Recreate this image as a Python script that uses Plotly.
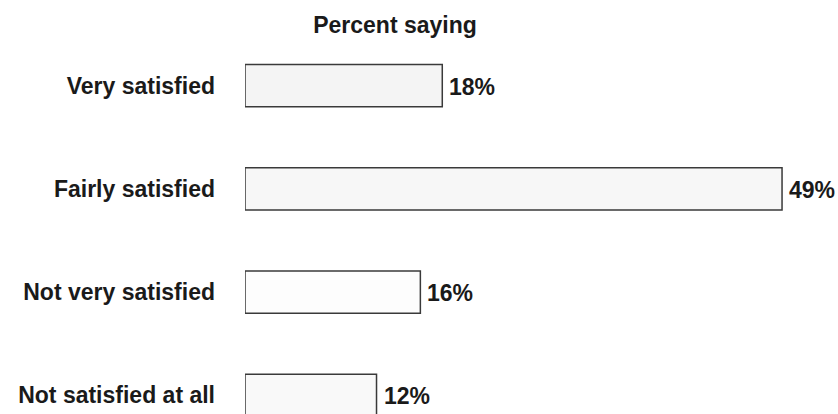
import plotly.graph_objects as go

# Survey responses: share of respondents in each satisfaction group
categories = ["Very satisfied", "Fairly satisfied", "Not very satisfied", "Not satisfied at all"]
percents = [18, 49, 16, 12]
fills = ["#f4f4f4", "#f7f7f7", "#fdfdfd", "#f9f9f9"]
title_text = "Percent saying"

font_family = "Liberation Sans, Arial, Helvetica, sans-serif"
ink = "#1a1a1a"
text_size = 23

fig = go.Figure(
    go.Bar(
        x=percents,
        y=categories,
        orientation="h",
        width=0.41,
        marker=dict(color=fills, line=dict(color="#3a3a3a", width=1.5)),
        hoverinfo="skip",
    )
)

# Value labels placed just past the end of each bar
for cat, val in zip(categories, percents):
    fig.add_annotation(
        x=val, y=cat, xref="x", yref="y",
        text=f"{val}%", showarrow=False,
        xanchor="left", yanchor="middle", xshift=5, yshift=-1,
        font=dict(family=font_family, size=text_size, color=ink, weight="bold"),
    )

fig.update_layout(
    width=838, height=414, autosize=False,
    margin=dict(l=245, r=45, t=34, b=0, pad=0),
    paper_bgcolor="white", plot_bgcolor="white",
    showlegend=False,
    title=dict(
        text=title_text, xref="container", yref="container",
        x=395 / 838, y=1 - 25 / 414, xanchor="center", yanchor="middle",
        font=dict(family=font_family, size=text_size, color=ink, weight="bold"),
    ),
    xaxis=dict(
        range=[0, 50], visible=False, showgrid=False, zeroline=False,
    ),
    yaxis=dict(
        type="category", categoryorder="array", categoryarray=categories,
        range=[3.18, -0.5], showgrid=False, zeroline=False, showline=False,
        ticks="", ticklabelstandoff=29,
        tickfont=dict(family=font_family, size=text_size, color=ink, weight="bold"),
    ),
)

fig.write_html("out.html")
